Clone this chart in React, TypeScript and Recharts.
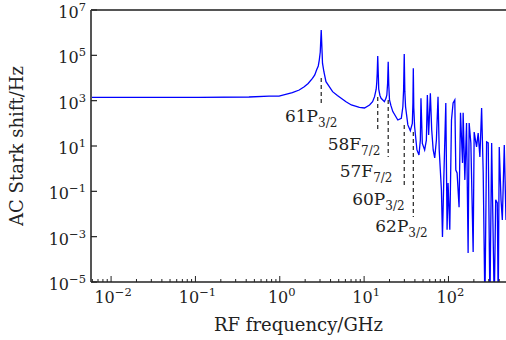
import React from "react";
import {
  LineChart,
  Line,
  XAxis,
  YAxis,
  ReferenceLine,
  ReferenceDot,
  Label
} from "recharts";

// RF frequency (GHz) and AC Stark shift (Hz)
const freqGHz = [
  0.0058, 0.109, 0.431, 0.746, 0.98, 1.41, 1.7, 1.95, 2.17, 2.44, 2.6, 2.73, 2.86, 2.94, 3.02, 3.1,
  3.18, 3.21, 3.34, 3.53, 3.76, 4.23, 4.82, 6.1, 7.06, 8.8, 10.1, 11.6, 12.6, 13.3, 13.9, 14.1, 14.3,
  14.5, 14.8, 14.9, 15.4, 15.9, 17.4, 18.2, 18.6, 19.0, 19.3, 19.6, 20.0, 20.8, 21.9, 25.1, 27.6,
  28.8, 29.4, 29.9, 30.4, 31.0, 33.0, 35.3, 37.3, 37.9, 38.3, 38.8, 39.7, 42.3, 44.7, 46.4, 47.2,
  49.0, 52.2, 54.7, 56.2, 58.2, 61.0, 63.3, 65.9, 68.7, 71.9, 75.2, 77.7, 82.5, 84.9, 88.0, 93.0,
  96.3, 98.9, 103.7, 108.6, 113.5, 118.9, 122.2, 126.6, 133.6, 138.9, 146.8, 149.3, 156.4, 163.8,
  171.0, 175.9, 184.3, 196.2, 201.7, 215.4, 225.0, 235.8, 247.2, 258.2, 270.4, 283.3, 296.0, 310.2,
  325.1, 349, 363, 379, 389, 400, 420, 435, 459, 481
];

const shiftHz = [
  1.4e3, 1.4e3, 1.45e3, 1.6e3, 1.6e3, 2.25e3, 2.96e3, 4.1e3, 5.7e3, 9.7e3, 1.36e4, 2.25e4, 3.4e4,
  6.2e4, 1.4e5, 1.31e6, 1.2e5, 4.5e4, 1.84e4, 6.9e3, 4.9e3, 2.5e3, 1.7e3, 900, 645, 510, 475, 640,
  900, 1.5e3, 3.2e3, 5.8e3, 1.6e4, 9.4e4, 8e3, 3.2e3, 1.7e3, 1.27e3, 900, 1.3e3, 1.78e3, 6e3, 5.2e4,
  5e3, 1.07e3, 600, 330, 140, 167, 540, 3.2e3, 1.15e5, 2.5e3, 540, 85, 47, 100, 800, 2.7e4, 500, 71,
  6.7, 4.0, 18, 1.27e3, 13, 6.7, 18, 1.78e3, 31, 2.1e3, 51, 6.7, 3.0, 18, 1.5e3, 6.7, 0.115, 9.7e-4,
  0.32, 790, 2.0e-3, 0.23, 2.0e-3, 140, 790, 1.07e3, 0.87, 0.65, 0.02, 290, 1.8, 290, 0.32, 104,
  1.9e-4, 104, 13.6, 2.1e-4, 41, 9.1, 37, 3.3, 475, 0.65, 1e-6, 15, 13.6, 1e-6, 13.6, 1e-6, 0.042,
  0.031, 1e-6, 9.1, 0.042, 5.5e-3, 11, 5.5e-3
];

// resonance labels: state, sub index, resonance freq, dashed span, text anchor (right end)
const resName = ["61P", "58F", "57F", "60P", "62P"];
const resSub = ["3/2", "7/2", "7/2", "3/2", "3/2"];
const resFreq = [3.1, 14.5, 19.3, 29.9, 38.3];
const dashTop = [1e4, 1.45e3, 1.07e3, 85, 41];
const dashBottom = [650, 46, 3.3, 0.14, 7.4e-3];
const textFreq = [4.82, 15.6, 21.7, 30.2, 56.7];
const textShift = [115, 6.7, 0.43, 0.025, 1.6e-3];

const yTicks = [1e-5, 1e-3, 1e-1, 1e1, 1e3, 1e5, 1e7];
const xDecades = [-3, -2, -1, 0, 1, 2];
const xMin = 0.00578;
const xMax = 481;

const xTicks: number[] = [];
xDecades.forEach((d) => {
  for (let m = 1; m <= 9; m++) {
    const v = m * Math.pow(10, d);
    if (v >= xMin && v <= xMax) xTicks.push(v);
  }
});

const data = freqGHz.map((f, i) => ({ f, s: shiftHz[i] }));

const FONT = "'DejaVu Serif', serif";

function expOf(v: number) {
  return Math.round(Math.log10(v));
}

function YTick(props: any) {
  const { x, y, payload } = props;
  const axisX = x + 5;
  const e = expOf(payload.value);
  return (
    <g>
      <line x1={axisX} x2={axisX + 6} y1={y} y2={y} stroke="#222" strokeWidth={1.2} />
      <text x={axisX - 5} y={y + 8} textAnchor="end" fontFamily={FONT} fontSize={16} fill="#222">
        <tspan>10</tspan>
        <tspan dy={-7} fontSize={11.5}>{e < 0 ? "\u2212" + -e : e}</tspan>
      </text>
    </g>
  );
}

function XTick(props: any) {
  const { x, y, payload } = props;
  const axisY = y - 4;
  const lg = Math.log10(payload.value);
  const major = Math.abs(lg - Math.round(lg)) < 1e-6;
  const e = Math.round(lg);
  return (
    <g>
      <line x1={x} x2={x} y1={axisY} y2={axisY - (major ? 6 : 3)} stroke="#222" strokeWidth={1} />
      {major && (
        <text x={x + 2} y={axisY + 21} textAnchor="middle" fontFamily={FONT} fontSize={16} fill="#222">
          <tspan>10</tspan>
          <tspan dy={-7} fontSize={11.5}>{e < 0 ? "\u2212" + -e : e}</tspan>
        </text>
      )}
    </g>
  );
}

function ResLabel(props: any) {
  const { cx, cy, name, sub } = props;
  return (
    <text x={cx} y={cy} textAnchor="end" fontFamily={FONT} fontSize={17} fill="#222">
      <tspan>{name}</tspan>
      <tspan dy={5} fontSize={12}>{sub}</tspan>
    </text>
  );
}

export default function App() {
  return (
    <div style={{ position: "absolute", left: 0, top: 0, background: "#fff" }}>
      <LineChart width={506} height={340} data={data} margin={{ top: 10, right: 0, bottom: 0, left: 0 }}>
        <XAxis
          dataKey="f"
          type="number"
          scale="log"
          domain={[xMin, xMax]}
          allowDataOverflow
          ticks={xTicks}
          interval={0}
          tick={<XTick />}
          tickSize={0}
          tickMargin={4}
          tickLine={false}
          axisLine={{ stroke: "#222", strokeWidth: 1.5 }}
          height={58}
        >
          <Label
            value="RF frequency/GHz"
            position="insideBottom"
            offset={9}
            style={{ fontFamily: FONT, fontSize: 18, fill: "#222" }}
          />
        </XAxis>
        <YAxis
          dataKey="s"
          type="number"
          scale="log"
          domain={[1e-5, 1e7]}
          allowDataOverflow
          ticks={yTicks}
          interval={0}
          tick={<YTick />}
          tickSize={0}
          tickMargin={5}
          tickLine={false}
          axisLine={{ stroke: "#555", strokeWidth: 2 }}
          width={91}
        >
          <Label
            value="AC Stark shift/Hz"
            angle={-90}
            position="insideLeft"
            offset={17}
            style={{ fontFamily: FONT, fontSize: 18, fill: "#222", textAnchor: "middle" }}
          />
        </YAxis>
        <ReferenceLine y={1e7} stroke="#555" strokeWidth={2} />
        {resName.map((n, i) => (
          <ReferenceLine
            key={"d" + n + i}
            segment={[
              { x: resFreq[i], y: dashTop[i] },
              { x: resFreq[i], y: dashBottom[i] }
            ]}
            stroke="#222"
            strokeWidth={1.2}
            strokeDasharray="4 3"
          />
        ))}
        <Line
          type="linear"
          dataKey="s"
          stroke="#0000ff"
          strokeWidth={1.3}
          dot={false}
          isAnimationActive={false}
        />
        {resName.map((n, i) => (
          <ReferenceDot
            key={"t" + n + i}
            x={textFreq[i]}
            y={textShift[i]}
            r={0}
            shape={(p: any) => <ResLabel cx={p.cx} cy={p.cy} name={n} sub={resSub[i]} />}
          />
        ))}
      </LineChart>
    </div>
  );
}
